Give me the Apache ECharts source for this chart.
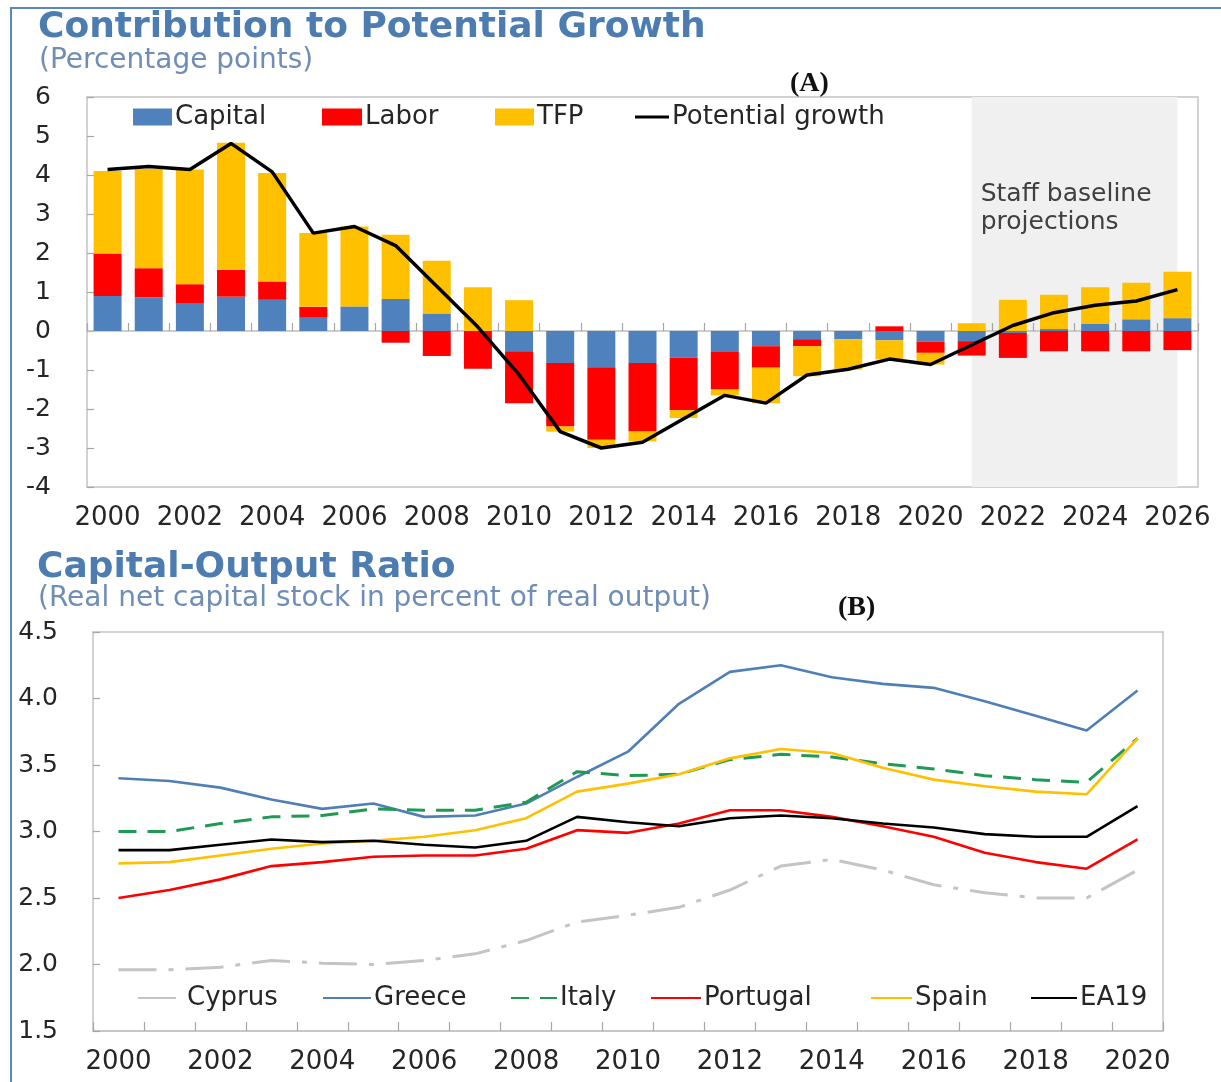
<!DOCTYPE html>
<html>
<head>
<meta charset="utf-8">
<script src="https://cdn.jsdelivr.net/npm/echarts@6/dist/echarts.min.js"></script>
<style>
  html, body { margin: 0; padding: 0; background: #ffffff; }
  #chart { position: absolute; left: 0; top: 0; width: 1221px; height: 1082px; }
  #frame { position: absolute; left: 10px; top: 7px; right: 0; bottom: 0;
           border-top: 2px solid #5a86c2; border-left: 2px solid #5a86c2; pointer-events: none; }
</style>
</head>
<body>
<div id="chart"></div>
<div id="frame"></div>
<script>
// Panel A: contributions to potential growth (percentage points)
const yearsA = ['2000','2001','2002','2003','2004','2005','2006','2007','2008','2009',
                '2010','2011','2012','2013','2014','2015','2016','2017','2018','2019',
                '2020','2021','2022','2023','2024','2025','2026'];
const capital = [0.90, 0.86, 0.70, 0.88, 0.80, 0.34, 0.63, 0.82, 0.45, 0.00,
                 -0.52, -0.82, -0.93, -0.82, -0.69, -0.54, -0.39, -0.21, -0.21, -0.24,
                 -0.27, -0.26, -0.05, 0.05, 0.19, 0.30, 0.33];
const labor = [1.09, 0.75, 0.50, 0.69, 0.47, 0.28, 0.00, -0.30, -0.64, -0.97,
               -1.33, -1.63, -1.86, -1.76, -1.34, -0.96, -0.55, -0.18, 0.00, 0.12,
               -0.29, -0.37, -0.64, -0.52, -0.52, -0.52, -0.49];
const tfp = [2.11, 2.55, 2.94, 3.26, 2.78, 1.89, 2.05, 1.65, 1.35, 1.12,
             0.79, -0.13, -0.21, -0.25, -0.20, -0.15, -0.91, -0.77, -0.78, -0.49,
             -0.30, 0.20, 0.80, 0.88, 0.93, 0.94, 1.19];
const potential = [4.14, 4.22, 4.14, 4.81, 4.08, 2.51, 2.68, 2.19, 1.15, 0.10,
                   -1.12, -2.58, -3.00, -2.85, -2.25, -1.65, -1.85, -1.13, -0.98, -0.72,
                   -0.86, -0.36, 0.14, 0.47, 0.66, 0.77, 1.06];
const projectionStart = '2021';
const projectionEnd = '2026';

// Panel B: capital-output ratio
const yearsB = ['2000','2001','2002','2003','2004','2005','2006','2007','2008','2009','2010',
                '2011','2012','2013','2014','2015','2016','2017','2018','2019','2020'];
const cyprus = [1.96, 1.96, 1.98, 2.03, 2.01, 2.00, 2.03, 2.08, 2.18, 2.32, 2.37,
                2.43, 2.56, 2.74, 2.79, 2.71, 2.60, 2.54, 2.50, 2.50, 2.71];
const greece = [3.40, 3.38, 3.33, 3.24, 3.17, 3.21, 3.11, 3.12, 3.21, 3.41, 3.60,
                3.96, 4.20, 4.25, 4.16, 4.11, 4.08, 3.98, 3.87, 3.76, 4.06];
const italy = [3.00, 3.00, 3.06, 3.11, 3.12, 3.17, 3.16, 3.16, 3.22, 3.45, 3.42,
               3.43, 3.54, 3.58, 3.56, 3.51, 3.47, 3.42, 3.39, 3.37, 3.70];
const portugal = [2.50, 2.56, 2.64, 2.74, 2.77, 2.81, 2.82, 2.82, 2.87, 3.01, 2.99,
                  3.06, 3.16, 3.16, 3.11, 3.04, 2.96, 2.84, 2.77, 2.72, 2.94];
const spain = [2.76, 2.77, 2.82, 2.87, 2.91, 2.93, 2.96, 3.01, 3.10, 3.30, 3.36,
               3.43, 3.55, 3.62, 3.59, 3.48, 3.39, 3.34, 3.30, 3.28, 3.70];
const ea19 = [2.86, 2.86, 2.90, 2.94, 2.92, 2.93, 2.90, 2.88, 2.93, 3.11, 3.07,
              3.04, 3.10, 3.12, 3.10, 3.06, 3.03, 2.98, 2.96, 2.96, 3.19];

const FONT = 'DejaVu Sans';
const TXT = '#262626';
const TITLE_BLUE = '#4d7db0';
const SUB_BLUE = '#6f8db5';
const BORDER = '#c3c3c3';
const TICK = '#a6a6a6';

const chart = echarts.init(document.getElementById('chart'), null, { renderer: 'canvas' });

function legendItem(name, left, top, opts) {
  return Object.assign({
    data: [name], left: left, top: top, padding: 0, itemGap: 0,
    orient: 'horizontal', selectedMode: false,
    textStyle: { fontFamily: FONT, fontSize: 26, color: TXT, padding: [0, 0, 0, -2] }
  }, opts);
}

const option = {
  animation: false,
  backgroundColor: '#ffffff',
  textStyle: { fontFamily: FONT },
  title: [
    { text: 'Contribution to Potential Growth', left: 38, top: 10, padding: 0,
      textStyle: { fontFamily: FONT, fontSize: 36, fontWeight: 'bold', color: TITLE_BLUE } },
    { text: '(Percentage points)', left: 39, top: 47, padding: 0,
      textStyle: { fontFamily: FONT, fontSize: 28, fontWeight: 'normal', color: SUB_BLUE } },
    { text: '(A)', left: 790, top: 70, padding: 0,
      textStyle: { fontFamily: 'Liberation Serif', fontSize: 28, fontWeight: 'bold', color: '#111' } },
    { text: 'Capital-Output Ratio', left: 37, top: 550, padding: 0,
      textStyle: { fontFamily: FONT, fontSize: 36, fontWeight: 'bold', color: TITLE_BLUE } },
    { text: '(Real net capital stock in percent of real output)', left: 38, top: 585, padding: 0,
      textStyle: { fontFamily: FONT, fontSize: 28, fontWeight: 'normal', color: SUB_BLUE } },
    { text: '(B)', left: 838, top: 594, padding: 0,
      textStyle: { fontFamily: 'Liberation Serif', fontSize: 28, fontWeight: 'bold', color: '#111' } }
  ],
  legend: [
    legendItem('Capital', 133, 104, { icon: 'rect', itemWidth: 39, itemHeight: 17 }),
    legendItem('Labor', 322, 104, { icon: 'rect', itemWidth: 40, itemHeight: 17 }),
    legendItem('TFP', 495, 104, { icon: 'rect', itemWidth: 39, itemHeight: 17 }),
    legendItem('Potential growth', 635, 104, { icon: 'rect', itemWidth: 34, itemHeight: 3 }),
    legendItem('Cyprus', 137, 985, { itemWidth: 46, itemHeight: 14, itemStyle: { opacity: 0 } }),
    legendItem('Greece', 322, 985, { itemWidth: 48, itemHeight: 14, itemStyle: { opacity: 0 } }),
    legendItem('Italy', 510, 985, { itemWidth: 46, itemHeight: 14, itemStyle: { opacity: 0 } }),
    legendItem('Portugal', 650, 985, { itemWidth: 50, itemHeight: 14, itemStyle: { opacity: 0 } }),
    legendItem('Spain', 870, 985, { itemWidth: 41, itemHeight: 14, itemStyle: { opacity: 0 } }),
    legendItem('EA19', 1030, 985, { itemWidth: 46, itemHeight: 14, itemStyle: { opacity: 0 } })
  ],
  grid: [
    { left: 87, top: 97, width: 1111, height: 390, show: true, borderColor: BORDER, borderWidth: 1.5,
      backgroundColor: 'transparent', containLabel: false, outerBoundsMode: 'none' },
    { left: 93, top: 632, width: 1070, height: 399, show: true, borderColor: BORDER, borderWidth: 1.5,
      backgroundColor: 'transparent', containLabel: false, outerBoundsMode: 'none' }
  ],
  xAxis: [
    { type: 'category', gridIndex: 0, data: yearsA, position: 'bottom',
      axisLine: { show: false, onZero: false }, axisTick: { show: false }, splitLine: { show: false },
      axisLabel: { interval: 1, fontFamily: FONT, fontSize: 26, color: TXT, margin: 18 } },
    { type: 'category', gridIndex: 0, data: yearsA, position: 'bottom', z: 2,
      axisLine: { show: true, onZero: true, lineStyle: { color: '#bdbdbd', width: 1.5 } },
      axisTick: { show: true, inside: true, interval: 0, length: 8, lineStyle: { color: TICK, width: 1.2 } },
      axisLabel: { show: false }, splitLine: { show: false } },
    { type: 'category', gridIndex: 1, data: yearsB, position: 'bottom',
      axisLine: { show: true, onZero: false, lineStyle: { color: BORDER, width: 1.5 } },
      axisTick: { show: true, inside: true, interval: 0, length: 9, lineStyle: { color: TICK, width: 1.2 } },
      splitLine: { show: false },
      axisLabel: { interval: 1, fontFamily: FONT, fontSize: 26, color: TXT, margin: 18 } }
  ],
  yAxis: [
    { type: 'value', gridIndex: 0, min: -4, max: 6, interval: 1,
      axisLine: { show: false }, splitLine: { show: false },
      axisTick: { show: true, inside: true, length: 7, lineStyle: { color: TICK, width: 1.2 } },
      axisLabel: { fontFamily: FONT, fontSize: 25, color: TXT, margin: 36 } },
    { type: 'value', gridIndex: 1, min: 1.5, max: 4.5, interval: 0.5,
      axisLine: { show: false }, splitLine: { show: false },
      axisTick: { show: true, inside: true, length: 7, lineStyle: { color: TICK, width: 1.2 } },
      axisLabel: { fontFamily: FONT, fontSize: 25, color: TXT, margin: 35,
                   formatter: function (v) { return v.toFixed(1); } } }
  ],
  series: [
    { name: 'Capital', type: 'bar', xAxisIndex: 0, yAxisIndex: 0, stack: 'contrib',
      barWidth: '68%', z: 3, itemStyle: { color: '#4f81bd' }, data: capital },
    { name: 'Labor', type: 'bar', xAxisIndex: 0, yAxisIndex: 0, stack: 'contrib',
      barWidth: '68%', z: 3, itemStyle: { color: '#ff0000' }, data: labor },
    { name: 'TFP', type: 'bar', xAxisIndex: 0, yAxisIndex: 0, stack: 'contrib',
      barWidth: '68%', z: 3, itemStyle: { color: '#ffc000' }, data: tfp },
    { name: 'Potential growth', type: 'line', xAxisIndex: 0, yAxisIndex: 0, z: 5,
      symbol: 'none', color: '#000000', lineStyle: { color: '#000000', width: 3.5 }, data: potential,
      markArea: {
        silent: true,
        z: 1,
        itemStyle: { color: '#f0f0f0' },
        label: {
          show: true, position: 'insideTopLeft', distance: 0, offset: [9, 83],
          formatter: 'Staff baseline\nprojections',
          fontFamily: FONT, fontSize: 25, lineHeight: 28, color: '#404040'
        },
        data: [[{ xAxis: projectionStart }, { xAxis: projectionEnd }]]
      } },

    { name: 'Cyprus', type: 'line', xAxisIndex: 2, yAxisIndex: 1, symbol: 'none', color: '#c4c4c4',
      lineStyle: { color: '#c4c4c4', width: 3, type: [38, 12, 5, 12] }, data: cyprus },
    { name: 'Greece', type: 'line', xAxisIndex: 2, yAxisIndex: 1, symbol: 'none', color: '#4f7fb5',
      lineStyle: { color: '#4f7fb5', width: 2.6 }, data: greece },
    { name: 'Italy', type: 'line', xAxisIndex: 2, yAxisIndex: 1, symbol: 'none', color: '#1f9a55',
      lineStyle: { color: '#1f9a55', width: 3, type: [18, 11] }, data: italy },
    { name: 'Portugal', type: 'line', xAxisIndex: 2, yAxisIndex: 1, symbol: 'none', color: '#ff0000',
      lineStyle: { color: '#ff0000', width: 2.6 }, data: portugal },
    { name: 'Spain', type: 'line', xAxisIndex: 2, yAxisIndex: 1, symbol: 'none', color: '#ffc000',
      lineStyle: { color: '#ffc000', width: 2.6 }, data: spain },
    { name: 'EA19', type: 'line', xAxisIndex: 2, yAxisIndex: 1, symbol: 'none', color: '#000000',
      lineStyle: { color: '#000000', width: 2.6 }, data: ea19 }
  ]
};

chart.setOption(option);
</script>
</body>
</html>
